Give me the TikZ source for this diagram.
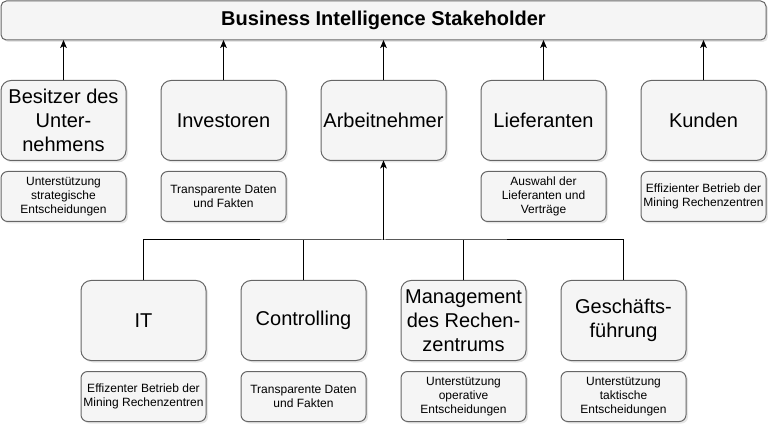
\documentclass[tikz,border=0pt]{standalone}
\usepackage{fontspec}
\setmainfont{Liberation Sans}
\usetikzlibrary{arrows.meta}
\usetikzlibrary{shadows}
\usetikzlibrary{positioning}
\definecolor{boxfill}{HTML}{F5F5F5}
\definecolor{boxline}{HTML}{666666}

\tikzset{
  card/.style={draw=boxline, fill=boxfill, line width=0.75pt, inner sep=0pt, outer sep=0pt,
    align=center, drop shadow={shadow xshift=1.5pt, shadow yshift=-1.5pt, opacity=0.2}},
  holder/.style={card, rounded corners=7.5pt, minimum width=93.75pt, minimum height=60pt,
    font=\fontsize{15}{18}\selectfont},
  goal/.style={card, rounded corners=5pt, minimum width=93.75pt, minimum height=37.5pt,
    font=\fontsize{9}{10.5}\selectfont},
  link/.style={line width=0.75pt, -{Stealth[length=6pt, width=5pt, inset=1.5pt]}}
}

\begin{document}
\begin{tikzpicture}[x=0.75pt, y=-0.75pt]
	\useasboundingbox (0,0) rectangle (768,424);

	%title bar
	\node[card, rounded corners=4pt, minimum width=573.75pt, minimum height=29.25pt,
	  font=\fontsize{15}{18}\selectfont\bfseries] (top) at (383.5,20.5) {Business Intelligence Stakeholder};

	%stakeholders
	\node[holder] (besitzer) at (63.5,120.5) {Besitzer des\\Unter-\\nehmens};
	\node[holder] (investoren) at (223.5,120.5) {Investoren};
	\node[holder] (arbeitnehmer) at (383.5,120.5) {Arbeitnehmer};
	\node[holder] (lieferanten) at (543.5,120.5) {Lieferanten};
	\node[holder] (kunden) at (703.5,120.5) {Kunden};

	%departments
	\node[holder] (it) at (143.5,320.5) {IT};
	\node[holder] (controlling) at (303.5,320.5) {Controlling};
	\node[holder] (management) at (463.5,320.5) {Management\\des Rechen-\\zentrums};
	\node[holder] (gf) at (623.5,320.5) {Gesch\"afts-\\f\"uhrung};

	%goals
	\node[goal, below=8.25pt of besitzer] (g-besitzer) {Unterst\"utzung\\strategische\\Entscheidungen};
	\node[goal, below=8.25pt of investoren] (g-investoren) {Transparente Daten\\und Fakten};
	\node[goal, below=8.25pt of lieferanten] (g-lieferanten) {Auswahl der\\Lieferanten und\\Vertr\"age};
	\node[goal, below=8.25pt of kunden] (g-kunden) {Effizienter Betrieb der\\Mining Rechenzentren};
	\node[goal, below=8.25pt of it] (g-it) {Effizenter Betrieb der\\Mining Rechenzentren};
	\node[goal, below=8.25pt of controlling] (g-controlling) {Transparente Daten\\und Fakten};
	\node[goal, below=8.25pt of management] (g-management) {Unterst\"utzung\\operative\\Entscheidungen};
	\node[goal, below=8.25pt of gf] (g-gf) {Unterst\"utzung\\taktische\\Entscheidungen};

	%arrows to title bar
	\foreach \s in {besitzer,investoren,arbeitnehmer,lieferanten,kunden}
	\draw[link] (\s.north) -- (\s.north |- top.south);

	%tree below Arbeitnehmer
	\coordinate (branch) at (383.5,240);
	\draw[link] (branch) -- (arbeitnehmer.south);
	\draw[line width=0.75pt] (it.north) |- (branch) -| (gf.north);
	\draw[line width=0.75pt] (controlling.north) -- (controlling.north |- branch);
	\draw[line width=0.75pt] (management.north) -- (management.north |- branch);
\end{tikzpicture}
\end{document}
